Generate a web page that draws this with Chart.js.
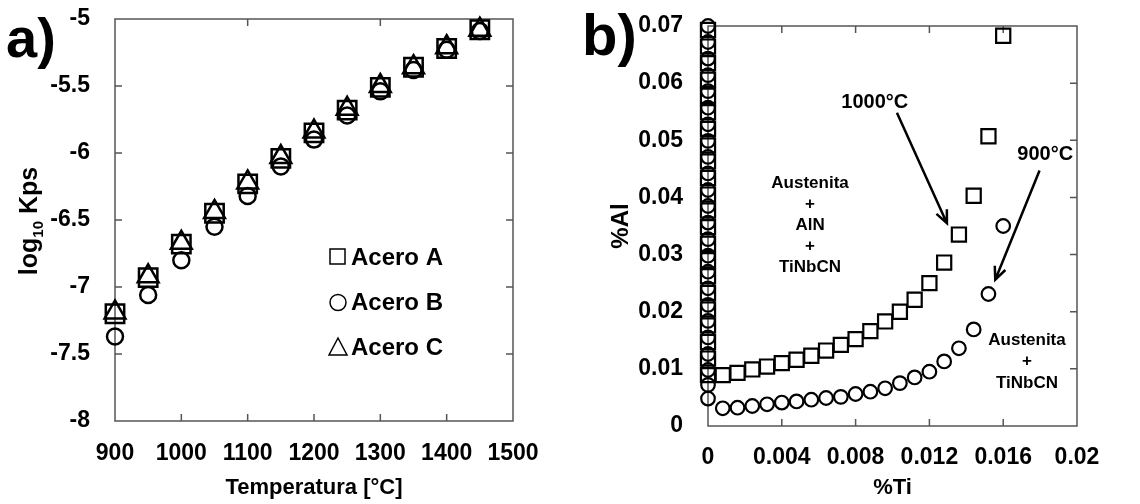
<!DOCTYPE html>
<html>
<head>
<meta charset="utf-8">
<script src="https://cdn.jsdelivr.net/npm/chart.js@4/dist/chart.umd.min.js"></script>
<style>
  body { margin: 0; background: #fff; }
  #wrap { position: relative; width: 1140px; height: 504px; }
  canvas { position: absolute; top: 0; }
  #left { left: 0; }
  #right { left: 570px; }
</style>
</head>
<body>
<div id="wrap">
  <canvas id="left" width="570" height="504"></canvas>
  <canvas id="right" width="570" height="504"></canvas>
</div>
<script>
// a) log10 Kps vs temperature
const temperatures = [900, 950, 1000, 1050, 1100, 1150, 1200, 1250, 1300, 1350, 1400, 1450];
const aceroA = [-7.20, -6.93, -6.68, -6.45, -6.23, -6.04, -5.85, -5.68, -5.51, -5.36, -5.22, -5.08];
const aceroB = [-7.37, -7.06, -6.80, -6.55, -6.32, -6.10, -5.90, -5.72, -5.54, -5.38, -5.23, -5.09];
const aceroC = [-7.19, -6.92, -6.67, -6.44, -6.22, -6.03, -5.84, -5.67, -5.50, -5.36, -5.21, -5.08];

// b) %Al vs %Ti, 1000°C (squares) and 900°C (circles)
const ti1000 = [0, 0, 0, 0, 0, 0, 0, 0, 0, 0, 0, 0, 0, 0, 0, 0, 0, 0, 0, 0, 0, 0,
  0.0008, 0.0016, 0.0024, 0.0032, 0.0040, 0.0048, 0.0056, 0.0064, 0.0072, 0.0080,
  0.0088, 0.0096, 0.0104, 0.0112, 0.0120, 0.0128, 0.0136, 0.0144, 0.0152, 0.0160];
const al1000 = [0.0089, 0.0118, 0.0147, 0.0176, 0.0204, 0.0233, 0.0262, 0.0290, 0.0319, 0.0348, 0.0377,
  0.0405, 0.0434, 0.0463, 0.0491, 0.0520, 0.0549, 0.0578, 0.0606, 0.0635, 0.0664, 0.0693,
  0.0089, 0.0093, 0.0099, 0.0104, 0.0110, 0.0116, 0.0123, 0.0132, 0.0142, 0.0152,
  0.0166, 0.0183, 0.0200, 0.0221, 0.0250, 0.0286, 0.0335, 0.0403, 0.0507, 0.0683];
const ti900 = [0, 0, 0, 0, 0, 0, 0, 0, 0, 0, 0, 0, 0, 0, 0, 0, 0, 0, 0, 0, 0, 0, 0, 0,
  0.0008, 0.0016, 0.0024, 0.0032, 0.0040, 0.0048, 0.0056, 0.0064, 0.0072, 0.0080,
  0.0088, 0.0096, 0.0104, 0.0112, 0.0120, 0.0128, 0.0136, 0.0144, 0.0152, 0.0160];
const al900 = [0.0048, 0.0072, 0.0098, 0.0126, 0.0155, 0.0184, 0.0212, 0.0241, 0.0270, 0.0298, 0.0327, 0.0356,
  0.0385, 0.0413, 0.0442, 0.0471, 0.0499, 0.0528, 0.0557, 0.0586, 0.0614, 0.0643, 0.0672, 0.0700,
  0.0031, 0.0032, 0.0035, 0.0038, 0.0041, 0.0043, 0.0046, 0.0049, 0.0051, 0.0056,
  0.0060, 0.0066, 0.0075, 0.0085, 0.0095, 0.0113, 0.0136, 0.0169, 0.0231, 0.0350];

const FONT = "'Liberation Sans', Arial, sans-serif";
const tickFont = { family: FONT, size: 23, weight: 'bold' };

function pts(xs, ys) {
  return xs.map((x, i) => ({ x: x, y: ys[i] }));
}

// plain tick text: no thousands separator, no trailing zeros
const trimNum = v => String(+(+v).toFixed(4));

// keep Chart.js from growing the margins for the end labels
function fixSize(prop, size) {
  return s => {
    s[prop] = size;
    s.paddingTop = 0; s.paddingBottom = 0; s.paddingLeft = 0; s.paddingRight = 0;
  };
}

// box around the plot with small inward tick marks
const framePlugin = {
  id: 'frame',
  beforeDatasetsDraw(chart, args, opts) {
    const { ctx, chartArea: a, scales: { x, y } } = chart;
    const t = 7;
    ctx.save();
    ctx.strokeStyle = '#555';
    ctx.lineWidth = 1.5;
    ctx.strokeRect(a.left, a.top, a.width, a.height);
    ctx.beginPath();
    (opts.bottom || []).forEach(v => { const p = x.getPixelForValue(v); ctx.moveTo(p, a.bottom); ctx.lineTo(p, a.bottom - t); });
    (opts.top || []).forEach(v => { const p = x.getPixelForValue(v); ctx.moveTo(p, a.top); ctx.lineTo(p, a.top + t); });
    (opts.left || []).forEach(v => { const p = y.getPixelForValue(v); ctx.moveTo(a.left, p); ctx.lineTo(a.left + t, p); });
    (opts.right || []).forEach(v => { const p = y.getPixelForValue(v); ctx.moveTo(a.right, p); ctx.lineTo(a.right - t, p); });
    ctx.stroke();
    ctx.restore();
  }
};

function arrow(ctx, x1, y1, x2, y2) {
  const ang = Math.atan2(y2 - y1, x2 - x1);
  const h = 14;
  ctx.beginPath();
  ctx.moveTo(x1, y1);
  ctx.lineTo(x2, y2);
  ctx.moveTo(x2 - h * Math.cos(ang - 0.42), y2 - h * Math.sin(ang - 0.42));
  ctx.lineTo(x2, y2);
  ctx.lineTo(x2 - h * Math.cos(ang + 0.42), y2 - h * Math.sin(ang + 0.42));
  ctx.stroke();
}

// panel a) extras: letter, y title with subscript, legend
const leftExtras = {
  id: 'leftExtras',
  afterDraw(chart) {
    const ctx = chart.ctx;
    ctx.save();
    ctx.fillStyle = '#000';
    ctx.font = 'bold 56px ' + FONT;
    ctx.textBaseline = 'alphabetic';
    ctx.fillText('a)', 6, 57);

    // log10 Kps
    ctx.translate(29, 221);
    ctx.rotate(-Math.PI / 2);
    const big = 'bold 25px ' + FONT, small = 'bold 15px ' + FONT;
    ctx.font = big; const w1 = ctx.measureText('log').width; const w3 = ctx.measureText(' Kps').width;
    ctx.font = small; const w2 = ctx.measureText('10').width;
    const x0 = -(w1 + w2 + w3) / 2;
    ctx.font = big; ctx.fillText('log', x0, 8);
    ctx.font = small; ctx.fillText('10', x0 + w1, 14);
    ctx.font = big; ctx.fillText(' Kps', x0 + w1 + w2, 8);
    ctx.setTransform(1, 0, 0, 1, 0, 0);

    // legend
    ctx.strokeStyle = '#000';
    ctx.lineWidth = 1.5;
    ctx.strokeRect(330, 249, 15, 15);
    ctx.beginPath();
    ctx.arc(338, 302.5, 8, 0, Math.PI * 2);
    ctx.stroke();
    ctx.beginPath();
    ctx.moveTo(338, 338); ctx.lineTo(347, 355); ctx.lineTo(329, 355); ctx.closePath();
    ctx.stroke();
    ctx.font = 'bold 24px ' + FONT;
    ctx.fillText('Acero A', 351, 265);
    ctx.fillText('Acero B', 351, 310);
    ctx.fillText('Acero C', 351, 355);
    ctx.restore();
  }
};

// panel b) extras: letter, phase labels, temperature arrows
const rightExtras = {
  id: 'rightExtras',
  afterDraw(chart) {
    const { ctx, scales: { x, y } } = chart;
    const px = v => x.getPixelForValue(v), py = v => y.getPixelForValue(v);
    ctx.save();
    ctx.fillStyle = '#000';
    ctx.strokeStyle = '#000';
    ctx.font = 'bold 58px ' + FONT;
    ctx.fillText('b)', 12, 55);

    ctx.textAlign = 'center';
    ctx.textBaseline = 'middle';
    ctx.font = 'bold 20px ' + FONT;
    ctx.fillText('1000°C', px(0.00904), py(0.0567));
    ctx.fillText('900°C', px(0.01828), py(0.0475));

    ctx.font = 'bold 17px ' + FONT;
    const phaseA = ['Austenita', '+', 'AlN', '+', 'TiNbCN'];
    phaseA.forEach((s, i) => ctx.fillText(s, px(0.00553), py(0.0425) + i * 21));
    const phaseB = ['Austenita', '+', 'TiNbCN'];
    phaseB.forEach((s, i) => ctx.fillText(s, px(0.01729), py(0.0150) + i * 21.5));

    ctx.lineWidth = 2.5;
    arrow(ctx, px(0.01024), py(0.0548), px(0.01295), py(0.0355));
    arrow(ctx, px(0.01797), py(0.0447), px(0.01557), py(0.0256));
    ctx.restore();
  }
};

new Chart(document.getElementById('left'), {
  type: 'scatter',
  data: {
    datasets: [
      { label: 'Acero A', data: pts(temperatures, aceroA), pointStyle: 'rect', pointRadius: 13, pointBorderWidth: 2.5, borderColor: '#000', backgroundColor: 'transparent', clip: false },
      { label: 'Acero B', data: pts(temperatures, aceroB), pointStyle: 'circle', pointRadius: 8, pointBorderWidth: 2.5, borderColor: '#000', backgroundColor: 'transparent', clip: false },
      { label: 'Acero C', data: pts(temperatures, aceroC), pointStyle: 'triangle', pointRadius: 12, pointBorderWidth: 2.5, borderColor: '#000', backgroundColor: 'transparent', clip: false }
    ]
  },
  options: {
    responsive: false,
    animation: false,
    devicePixelRatio: 1,
    layout: { padding: { top: 19, right: 57, left: 0, bottom: 0 } },
    plugins: {
      legend: { display: false },
      tooltip: { enabled: false },
      frame: { bottom: [1000, 1100, 1200, 1300, 1400], top: [1100, 1300], left: [-5.5, -6, -6.5, -7, -7.5], right: [-5.5, -6, -6.5, -7, -7.5] }
    },
    scales: {
      x: {
        type: 'linear', min: 900, max: 1500,
        ticks: { stepSize: 100, padding: 19, color: '#000', font: tickFont, autoSkip: false, maxRotation: 0, callback: trimNum },
        grid: { display: false, drawTicks: false }, border: { display: false },
        title: { display: true, text: 'Temperatura [°C]', color: '#000', font: { family: FONT, size: 22, weight: 'bold' }, padding: { top: 0, bottom: 3 } },
        afterFit: fixSize('height', 83)
      },
      y: {
        min: -8, max: -5,
        ticks: { stepSize: 0.5, padding: 25, color: '#000', font: tickFont, autoSkip: false, callback: trimNum },
        grid: { display: false, drawTicks: false }, border: { display: false },
        afterFit: fixSize('width', 115)
      }
    }
  },
  plugins: [framePlugin, leftExtras]
});

new Chart(document.getElementById('right'), {
  type: 'scatter',
  data: {
    datasets: [
      { label: '1000°C', data: pts(ti1000, al1000), pointStyle: 'rect', pointRadius: 10, pointBorderWidth: 2.2, borderColor: '#000', backgroundColor: 'transparent', clip: false },
      { label: '900°C', data: pts(ti900, al900), pointStyle: 'circle', pointRadius: 6.8, pointBorderWidth: 2.2, borderColor: '#000', backgroundColor: 'transparent', clip: false }
    ]
  },
  options: {
    responsive: false,
    animation: false,
    devicePixelRatio: 1,
    layout: { padding: { top: 26, right: 63, left: 0, bottom: 0 } },
    plugins: {
      legend: { display: false },
      tooltip: { enabled: false },
      frame: { bottom: [0.004, 0.008, 0.012, 0.016], top: [0.004, 0.008, 0.012, 0.016], right: [0.01, 0.02, 0.03, 0.04, 0.05, 0.06] }
    },
    scales: {
      x: {
        type: 'linear', min: 0, max: 0.02,
        ticks: { stepSize: 0.004, padding: 18, color: '#000', font: tickFont, autoSkip: false, maxRotation: 0, callback: trimNum },
        grid: { display: false, drawTicks: false }, border: { display: false },
        title: { display: true, text: '%Ti', color: '#000', font: { family: FONT, size: 22, weight: 'bold' }, padding: { top: 0, bottom: 3 } },
        afterFit: fixSize('height', 78)
      },
      y: {
        min: 0, max: 0.07,
        ticks: { stepSize: 0.01, padding: 25, color: '#000', font: tickFont, autoSkip: false, callback: trimNum },
        grid: { display: false, drawTicks: false }, border: { display: false },
        title: { display: true, text: '%Al', color: '#000', font: { family: FONT, size: 24, weight: 'bold' }, padding: { top: 37, bottom: 0 } },
        afterFit: fixSize('width', 138)
      }
    }
  },
  plugins: [framePlugin, rightExtras]
});
</script>
</body>
</html>
